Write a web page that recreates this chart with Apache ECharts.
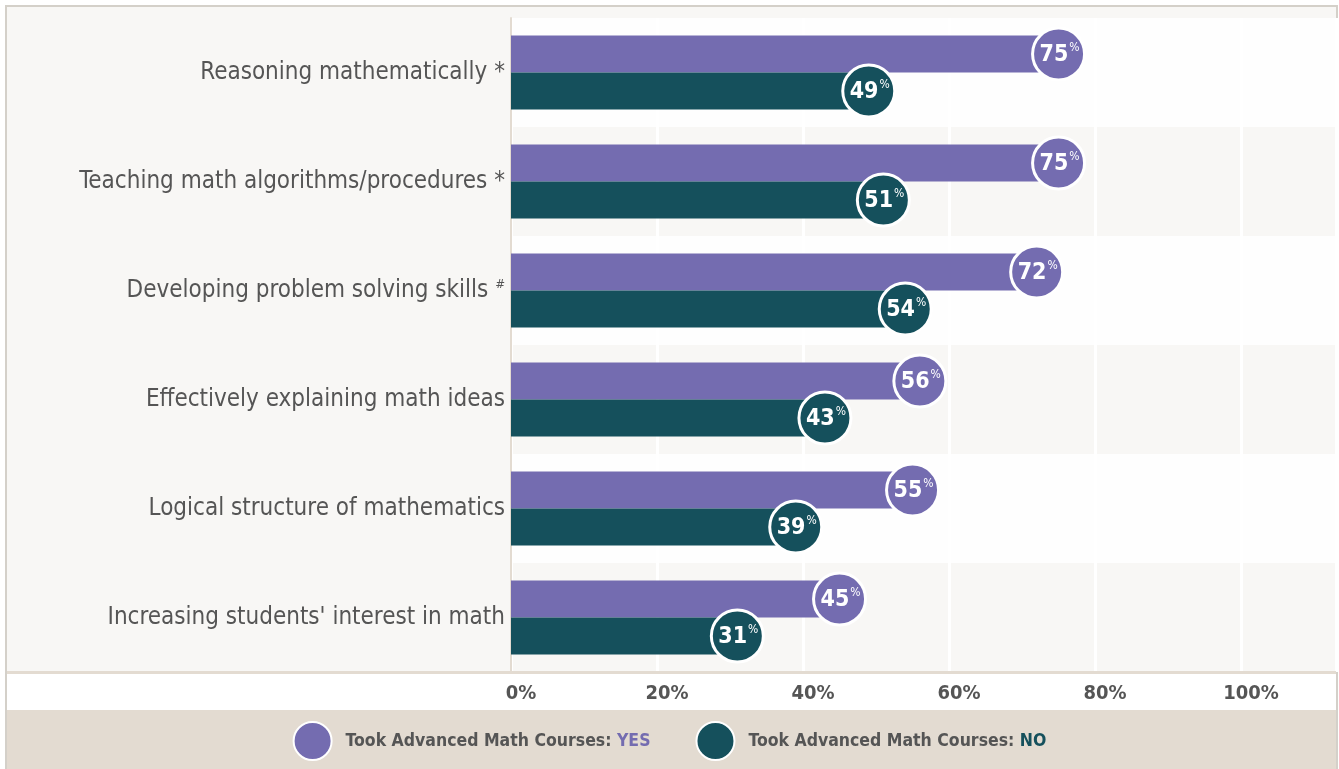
<!DOCTYPE html>
<html>
<head>
<meta charset="utf-8">
<script src="https://cdn.jsdelivr.net/npm/echarts@6/dist/echarts.min.js"></script>
<style>
html,body{margin:0;padding:0;background:#fff;}
#chart{width:1339px;height:769px;}
</style>
</head>
<body>
<div id="chart"></div>
<script>
var categories = [
  "Reasoning mathematically *",
  "Teaching math algorithms/procedures *",
  "Developing problem solving skills #",
  "Effectively explaining math ideas",
  "Logical structure of mathematics",
  "Increasing students' interest in math"
];
var yesValues = [75, 75, 72, 56, 55, 45];
var noValues = [49, 51, 54, 43, 39, 31];
var xTicks = [0, 20, 40, 60, 80, 100];
var seriesNames = ["YES", "NO"];

var FONT = "'DejaVu Sans Condensed', 'Liberation Sans Narrow', sans-serif";
var PURPLE = "#746cb0";
var TEAL = "#15505c";
var GREY = "#555555";

var chart = echarts.init(document.getElementById('chart'));

function bubbleData(vals) {
  return vals.map(function (v, i) { return [v, i]; });
}
function bubbleLabel() {
  return {
    show: true,
    position: 'inside',
    offset: [1, 1],
    formatter: function (p) { return '{v|' + p.value[0] + '}{p|%}'; },
    rich: {
      v: { fontFamily: FONT, fontSize: 23, fontWeight: 'bold', color: '#fff', lineHeight: 26 },
      p: { fontFamily: FONT, fontSize: 12, color: '#fff', verticalAlign: 'top', lineHeight: 26, padding: [0, 0, 10, 1] }
    }
  };
}

var option = {
  backgroundColor: '#ffffff',
  animation: false,
  graphic: [
    { type: 'rect', z: -100, shape: { x: 6, y: 6, width: 1331, height: 770 }, style: { fill: '#f8f7f5', stroke: '#d4d0c9', lineWidth: 2 } },
    { type: 'rect', z: -99, shape: { x: 7, y: 673, width: 1329, height: 37 }, style: { fill: '#ffffff' } },
    { type: 'rect', z: -99, shape: { x: 7, y: 710, width: 1329, height: 60 }, style: { fill: '#e3dbd1' } },
    { type: 'rect', z: 10, shape: { x: 7, y: 671, width: 1329, height: 3 }, style: { fill: '#e3dbd1' } }
  ],
  grid: { left: 511, right: 3, top: 18, bottom: 97, containLabel: false },
  legend: {
    left: 'center',
    top: 716,
    data: seriesNames,
    icon: 'circle',
    itemWidth: 38,
    itemHeight: 38,
    itemGap: 45,
    itemStyle: { borderColor: '#ffffff', borderWidth: 2 },
    formatter: function (name) {
      return '{a|Took Advanced Math Courses: }{' + (name === 'YES' ? 'y' : 'n') + '|' + name + '}';
    },
    textStyle: {
      padding: [0, 0, 0, 9],
      rich: {
        a: { fontFamily: FONT, fontSize: 17.5, fontWeight: 'bold', color: GREY },
        y: { fontFamily: FONT, fontSize: 17.5, fontWeight: 'bold', color: PURPLE },
        n: { fontFamily: FONT, fontSize: 17.5, fontWeight: 'bold', color: TEAL }
      }
    }
  },
  xAxis: {
    type: 'value',
    min: 0,
    max: 113,
    interval: 20,
    axisLine: { show: false },
    axisTick: { show: false },
    splitLine: { show: true, lineStyle: { color: '#ffffff', width: 3 } },
    axisLabel: {
      margin: 12,
      fontFamily: FONT,
      fontSize: 20,
      fontWeight: 'bold',
      color: GREY,
      padding: [0, 0, 0, 20],
      formatter: function (v) { return xTicks.indexOf(v) >= 0 ? v + '%' : ''; }
    }
  },
  yAxis: {
    type: 'category',
    data: categories,
    inverse: true,
    axisLine: { show: true, lineStyle: { color: '#e3dbd1', width: 2 } },
    axisTick: { show: false },
    splitArea: { show: true, areaStyle: { color: ['#fefefe', '#f8f7f5'] } },
    axisLabel: {
      margin: 6,
      fontFamily: FONT,
      fontSize: 24,
      color: GREY,
      formatter: function (v) {
        if (v.slice(-1) === '#') {
          return '{t|' + v.slice(0, -1) + '}{s|#}';
        }
        return '{t|' + v + '}';
      },
      rich: {
        t: { fontFamily: FONT, fontSize: 24, color: GREY },
        s: { fontFamily: FONT, fontSize: 13, color: GREY, fontStyle: 'italic', verticalAlign: 'top', padding: [0, 0, 12, 0] }
      }
    }
  },
  series: [
    {
      name: 'YES', type: 'bar', data: yesValues, barWidth: 37, barGap: '0%',
      itemStyle: { color: PURPLE }, z: 2
    },
    {
      name: 'NO', type: 'bar', data: noValues, barWidth: 37, barGap: '0%',
      itemStyle: { color: TEAL }, z: 2
    },
    {
      name: 'YES', type: 'scatter', data: bubbleData(yesValues), symbol: 'circle', symbolSize: 52,
      symbolOffset: [0, -18.5],
      itemStyle: { color: PURPLE, borderColor: '#ffffff', borderWidth: 3, opacity: 1 },
      label: bubbleLabel(), z: 4
    },
    {
      name: 'NO', type: 'scatter', data: bubbleData(noValues), symbol: 'circle', symbolSize: 52,
      symbolOffset: [0, 18.5],
      itemStyle: { color: TEAL, borderColor: '#ffffff', borderWidth: 3, opacity: 1 },
      label: bubbleLabel(), z: 4
    }
  ]
};
chart.setOption(option);
</script>
</body>
</html>
